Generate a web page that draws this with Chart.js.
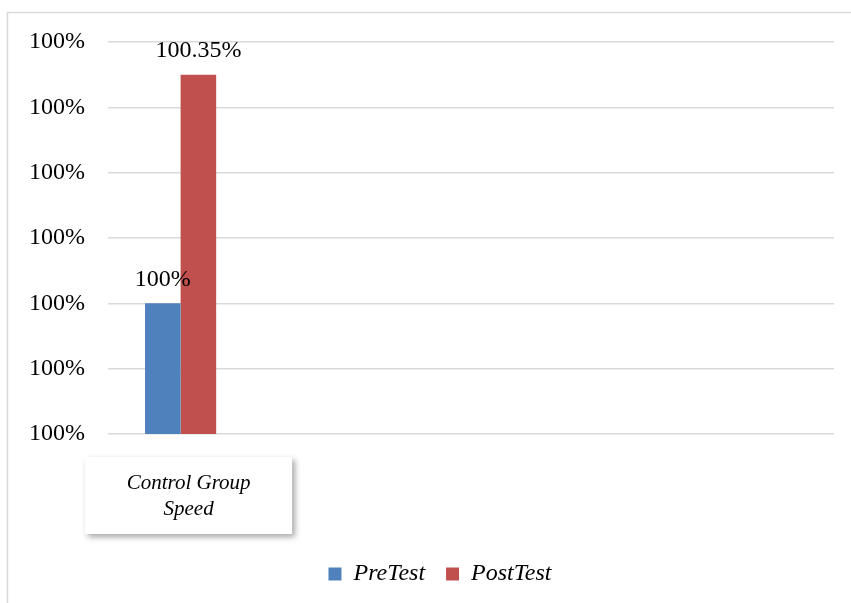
<!DOCTYPE html>
<html>
<head>
<meta charset="utf-8">
<script src="https://cdn.jsdelivr.net/npm/chart.js@4"></script>
<style>
  body { margin: 0; background: #fff; }
  #wrap { width: 851px; height: 603px; }
</style>
</head>
<body>
<div id="wrap"><canvas id="speedChart" width="851" height="603"></canvas></div>
<script>
// data
var categories = ['Control Group Speed', '', '', '', ''];
var preTest = [100, null, null, null, null];
var postTest = [100.35, null, null, null, null];
var seriesNames = ['PreTest', 'PostTest'];
var yMin = 99.8, yMax = 100.4, yStep = 0.1;

// white page + light frame round the chart
const framePlugin = {
    id: 'frame',
    beforeDraw: function(chart){
        const ctx = chart.ctx;
        ctx.save();
        ctx.fillStyle = '#fff';
        ctx.fillRect(0, 0, chart.width, chart.height);
        ctx.strokeStyle = '#d9d9d9';
        ctx.lineWidth = 1.5;
        ctx.beginPath();
        ctx.moveTo(7.5, chart.height);
        ctx.lineTo(7.5, 12.5);
        ctx.lineTo(chart.width, 12.5);
        ctx.stroke();
        ctx.restore();
    },
    // legend sits a bit right of the canvas centre
    afterLayout: function(chart){
        if (chart.legend) {
            chart.legend.left += 23;
            chart.legend.right += 23;
        }
    }
};

// value labels above bars
const valueLabels = {
    id: 'valueLabels',
    afterDatasetsDraw: function(chart){
        const ctx = chart.ctx;
        ctx.save();
        ctx.font = '24px "Liberation Serif"';
        ctx.fillStyle = '#000';
        ctx.textAlign = 'center';
        ctx.textBaseline = 'middle';
        chart.data.datasets.forEach(function(ds, i){
            chart.getDatasetMeta(i).data.forEach(function(bar, j){
                const v = ds.data[j];
                if (v === null || v === undefined) return;
                ctx.fillText(v + '%', bar.x, bar.y - 24);
            });
        });
        ctx.restore();
    }
};

// category label in a shadowed box under the axis
const categoryBox = {
    id: 'categoryBox',
    afterDraw: function(chart){
        const ctx = chart.ctx;
        const xs = chart.scales.x;
        ctx.save();
        categories.forEach(function(cat, i){
            if (!cat) return;
            const cx = xs.getPixelForValue(i) + 8;
            const w = 207, h = 77, top = 457;
            ctx.save();
            ctx.shadowColor = 'rgba(0,0,0,0.35)';
            ctx.shadowBlur = 6;
            ctx.shadowOffsetX = 3;
            ctx.shadowOffsetY = 3;
            ctx.fillStyle = '#fff';
            ctx.fillRect(cx - w / 2, top, w, h);
            ctx.restore();
            ctx.font = 'italic 21px "Liberation Serif"';
            ctx.fillStyle = '#000';
            ctx.textAlign = 'center';
            ctx.textBaseline = 'middle';
            const words = cat.split(' ');
            ctx.fillText(words.slice(0, 2).join(' '), cx, top + 26);
            ctx.fillText(words.slice(2).join(' '), cx, top + 52);
        });
        ctx.restore();
    }
};

const dt = {
    labels: categories,
    datasets: [{
        label: seriesNames[0],
        data: preTest,
        backgroundColor: '#4F81BD',
        borderWidth: 0
    }, {
        label: seriesNames[1],
        data: postTest,
        backgroundColor: '#C0504D',
        borderWidth: 0
    }]
};

const config_speed = {
    type: 'bar',
    data: dt,
    options: {
        responsive: false,
        animation: false,
        events: [],
        layout: { padding: { left: 0, right: 17, top: 42, bottom: 7 } },
        datasets: { bar: { categoryPercentage: 0.49, barPercentage: 1 } },
        scales: {
            x: {
                grid: { display: false },
                border: { display: false },
                ticks: { display: false },
                afterFit: function(s){ s.height = 107; }
            },
            y: {
                min: yMin,
                max: yMax,
                grid: { color: '#d9d9d9', lineWidth: 1.5, drawTicks: false },
                border: { display: false },
                ticks: {
                    stepSize: yStep,
                    padding: 23,
                    color: '#000',
                    font: { family: '"Liberation Serif"', size: 24 },
                    callback: function(v){ return Math.round(v) + '%'; }
                },
                afterFit: function(s){ s.width = 108; }
            }
        },
        plugins: {
            legend: {
                position: 'bottom',
                labels: {
                    boxWidth: 13,
                    boxHeight: 13,
                    padding: 21,
                    color: '#000',
                    font: { family: '"Liberation Serif"', size: 24, style: 'italic' }
                }
            },
            tooltip: { enabled: false }
        }
    },
    plugins: [framePlugin, valueLabels, categoryBox]
};

const speedChart = new Chart(
    document.getElementById('speedChart'),
    config_speed
);
</script>
</body>
</html>
